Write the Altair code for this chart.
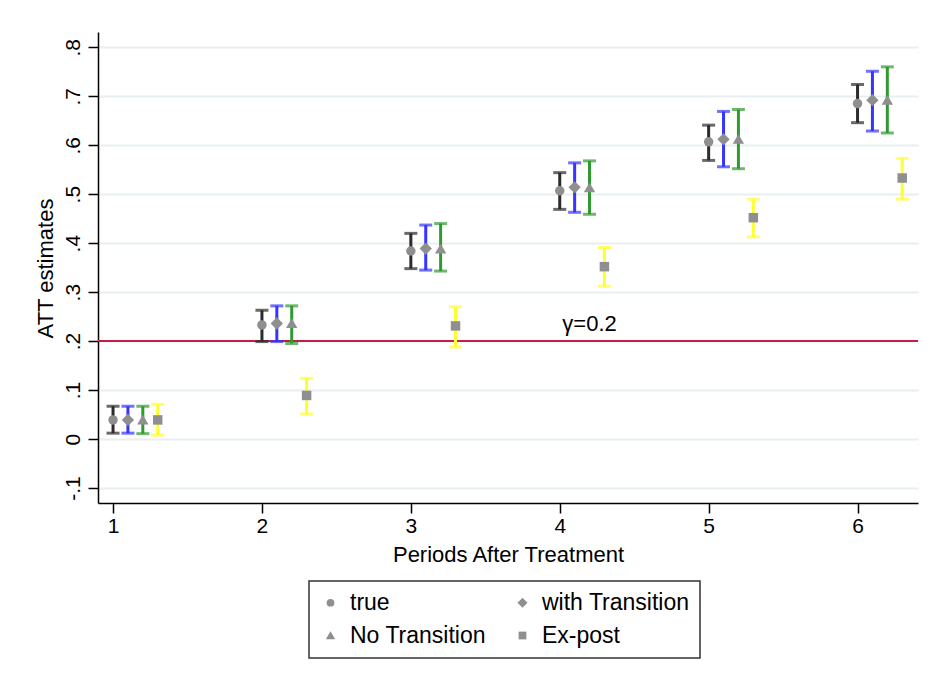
import altair as alt
import pandas as pd

# Event-study style ATT estimates by period after treatment, four estimators
periods = [1, 2, 3, 4, 5, 6]
series = ["true", "with Transition", "No Transition", "Ex-post"]
x_shift = [0.0, 0.1, 0.2, 0.3]

est_true = [0.039, 0.233, 0.384, 0.507, 0.607, 0.685]
lo_true = [0.012, 0.199, 0.348, 0.469, 0.569, 0.646]
hi_true = [0.067, 0.263, 0.420, 0.544, 0.641, 0.724]

est_with = [0.039, 0.236, 0.389, 0.514, 0.612, 0.692]
lo_with = [0.012, 0.199, 0.345, 0.463, 0.556, 0.629]
hi_with = [0.067, 0.272, 0.437, 0.564, 0.669, 0.751]

est_no = [0.039, 0.236, 0.388, 0.513, 0.612, 0.692]
lo_no = [0.011, 0.195, 0.343, 0.459, 0.552, 0.625]
hi_no = [0.067, 0.272, 0.440, 0.568, 0.673, 0.760]

est_ex = [0.039, 0.089, 0.231, 0.352, 0.452, 0.533]
lo_ex = [0.008, 0.051, 0.188, 0.312, 0.413, 0.490]
hi_ex = [0.071, 0.124, 0.270, 0.391, 0.490, 0.573]

y_ticks = [-0.1, 0.0, 0.1, 0.2, 0.3, 0.4, 0.5, 0.6, 0.7, 0.8]
y_tick_labels = ["-.1", "0", ".1", ".2", ".3", ".4", ".5", ".6", ".7", ".8"]

gamma = 0.2
gamma_label = "γ=0.2"

bar_colors = ["#2b2b2b", "#3535ff", "#2f9a2f", "#ffff30"]
# marker outlines in unit coordinates: circle, diamond, triangle, square
marker_shapes = [
    "circle",
    "M-1.3,0L0,-1.3L1.3,0L0,1.3Z",
    "M0,-1.1L1.2,0.95L-1.2,0.95Z",
    "M-1,-1L1,-1L1,1L-1,1Z",
]
marker_gray = "#8f8f8f"
FONT = "Liberation Sans"

rows = []
for name, shift, est, lo, hi in zip(
    series,
    x_shift,
    [est_true, est_with, est_no, est_ex],
    [lo_true, lo_with, lo_no, lo_ex],
    [hi_true, hi_with, hi_no, hi_ex],
):
    for p, e, l, h in zip(periods, est, lo, hi):
        rows.append({"series": name, "period": p,
                     "xpos": p + shift, "est": e, "lo": l, "hi": h})
df = pd.DataFrame(rows)
notes = pd.DataFrame({"label": [gamma_label], "gamma": [gamma]})

x_scale = alt.Scale(domain=[0.899, 6.406], nice=False, zero=False)
y_scale = alt.Scale(domain=[-0.1306, 0.8312], nice=False, zero=False)

label_lookup = "[" + ",".join("'%s'" % s for s in y_tick_labels) + "]"

x_axis = alt.Axis(
    values=periods, format="d", grid=False,
    labelFontSize=21, labelPadding=19, labelBaseline="alphabetic",
    titleFontSize=22, titleFontWeight="normal",
    titleX=410, titleY=58, titleAnchor="middle", titleBaseline="alphabetic",
)
y_axis = alt.Axis(
    values=y_ticks,
    labelExpr=label_lookup + "[round(datum.value * 10) + 1]",
    labelAngle=-90, labelAlign="center", labelBaseline="alphabetic",
    labelPadding=9, labelFontSize=21,
    grid=True, gridColor="#e8eff2", gridWidth=2,
    titleFontSize=22, titleFontWeight="normal",
    titleAngle=-90, titleX=-46, titleY=236, titleAlign="center",
    titleBaseline="alphabetic",
)

X = alt.X("xpos:Q", scale=x_scale, axis=x_axis, title="Periods After Treatment")


def Y(field):
    return alt.Y(field, type="quantitative", scale=y_scale, axis=y_axis,
                 title="ATT estimates")


# Interval colours: domain listed in reverse so this (legend-less) scale is not
# merged with the marker legend, which shares the same category values.
color = alt.Color(
    "series:N",
    scale=alt.Scale(domain=series[::-1], range=bar_colors[::-1]),
    legend=None,
)

base = alt.Chart(df)

ref_line = alt.Chart(notes).mark_rule(color="#c41e48", strokeWidth=2).encode(
    y=Y("gamma")
)

bars = base.mark_rule(strokeWidth=3).encode(x=X, y=Y("lo"), y2="hi", color=color)
caps_lo = base.mark_tick(orient="horizontal", size=13, thickness=3).encode(
    x=X, y=Y("lo"), color=color)
caps_hi = base.mark_tick(orient="horizontal", size=13, thickness=3).encode(
    x=X, y=Y("hi"), color=color)

points = base.mark_point(filled=True, opacity=1, color=marker_gray, size=90).encode(
    x=X,
    y=Y("est"),
    shape=alt.Shape(
        "series:N",
        scale=alt.Scale(domain=series, range=marker_shapes),
        legend=alt.Legend(
            title=None, orient="none", legendX=211, legendY=549,
            direction="horizontal", columns=2, columnPadding=25, rowPadding=9,
            labelFontSize=23, labelFont=FONT, labelColor="black",
            labelOffset=8, labelLimit=400,
            symbolSize=60, symbolFillColor=marker_gray, symbolStrokeWidth=0,
            strokeColor="#333333", fillColor="white", padding=10,
        ),
    ),
)

gamma_text = alt.Chart(notes).mark_text(
    fontSize=22, font=FONT, align="center", baseline="alphabetic", color="black",
).encode(
    text="label:N",
    x=alt.XDatum(4.2, scale=x_scale),
    y=alt.YDatum(0.22, scale=y_scale),
)

chart = (
    alt.layer(ref_line, bars, caps_lo, caps_hi, points, gamma_text)
    .properties(
        width=820, height=471,
        autosize=alt.AutoSizeParams(type="none"),
        padding={"left": 98, "top": 32, "right": 12, "bottom": 174},
        background="white",
    )
    .configure(font=FONT)
    .configure_view(stroke=None)
    .configure_axis(
        domainColor="black", domainWidth=1.5,
        tickColor="black", tickWidth=1.5, tickSize=10,
        labelColor="black", titleColor="black",
        labelFont=FONT, titleFont=FONT,
    )
    .configure_legend(strokeWidth=1.5, cornerRadius=0)
)

chart.save("out.html", embed_options={"renderer": "svg", "actions": False})
